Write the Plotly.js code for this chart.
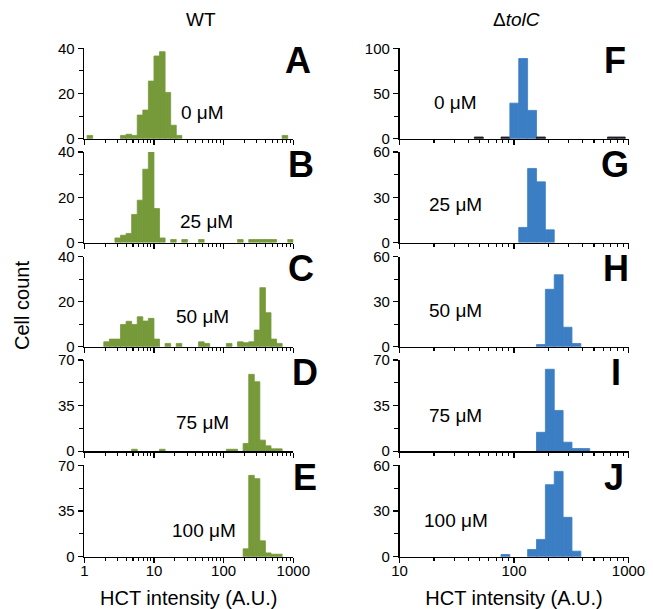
<!DOCTYPE html>
<html>
<head>
<meta charset="utf-8">
<script src="https://cdn.plot.ly/plotly-3.0.1.min.js"></script>
<style>html,body{margin:0;padding:0;background:#fff;}#chart{width:653px;height:609px;}</style>
</head>
<body>
<div id="chart"></div>
<script>
// ---------------- DATA ----------------
// Bin left edges (HCT intensity, A.U.) and cell counts per panel
const wtBinRatio = 1.202;   // log-width of WT histogram bins
const tolBinRatio = 1.195;  // log-width of ΔtolC histogram bins

const panelA_x = [1.096, 3.311, 3.981, 4.786, 5.754, 6.918, 8.318, 10.0, 12.02, 14.45, 17.38, 20.89, 691.8];
const panelA_y = [1.5, 1.5, 2, 1.5, 10.5, 12.7, 25.5, 36.6, 38.5, 20.5, 6, 1.5, 1.5];

const panelB_x = [2.754, 3.311, 3.981, 4.786, 5.754, 6.918, 8.318, 10.0, 12.02, 17.38, 25.12, 43.65, 158.5, 229.1, 275.4, 331.1, 398.1, 478.6, 831.8];
const panelB_y = [2, 3.2, 4, 12.4, 18.7, 32.4, 40, 15, 2, 1.3, 1.3, 1.3, 1.3, 1.3, 1.3, 1.3, 1.3, 1.3, 1.3];

const panelC_x = [1.905, 2.291, 2.754, 3.311, 3.981, 4.786, 5.754, 6.918, 8.318, 10.0, 14.45, 20.89, 43.65, 52.48, 109.6, 158.5, 190.5, 229.1, 275.4, 331.1, 398.1, 478.6, 575.4];
const panelC_y = [2.2, 3.4, 3.4, 9.9, 11.3, 9.9, 13.3, 11.4, 12.6, 3.4, 1.5, 1.5, 2.2, 1.5, 1.5, 2.2, 1.8, 2.2, 7.4, 26.2, 15.1, 3.4, 1.5];

const panelD_x = [4.786, 12.02, 109.6, 131.8, 190.5, 229.1, 275.4, 331.1, 398.1, 478.6, 575.4];
const panelD_y = [1.5, 1.5, 1.5, 1.5, 5.9, 59, 53.3, 8.5, 4.1, 1.8, 1.8];

const panelE_x = [190.5, 229.1, 275.4, 331.1, 398.1, 478.6, 575.4];
const panelE_y = [6.1, 62.3, 59.8, 12.2, 3, 2, 2];

const panelF_x = [45.1, 77.0, 92.0, 110.0, 131.5, 157.2, 655.0, 783.0];
const panelF_y = [2, 2, 39.4, 88.7, 31.4, 2, 2, 2];

const panelG_x = [110.0, 131.5, 157.2, 188.0];
const panelG_y = [10, 49.1, 40.2, 8.4];

const panelH_x = [157.2, 188.0, 224.6, 268.5, 321.0];
const panelH_y = [1.5, 38.2, 47.9, 13, 2.2];

const panelI_x = [157.2, 188.0, 224.6, 268.5, 321.0, 383.7];
const panelI_y = [14.5, 62.9, 31.3, 6.9, 2, 2];

const panelJ_x = [77.0, 131.5, 157.2, 188.0, 224.6, 268.5, 321.0];
const panelJ_y = [1.5, 4.8, 11.4, 47.3, 56, 25.9, 3.7];

const yMaxWT = [40, 40, 40, 70, 70];
const yMaxTol = [100, 60, 60, 70, 60];
const concLabels = ["0 \u03bcM", "25 \u03bcM", "50 \u03bcM", "75 \u03bcM", "100 \u03bcM"];
const letterWT = ["A", "B", "C", "D", "E"];
const letterTol = ["F", "G", "H", "I", "J"];
const xTickWT = [1, 10, 100, 1000];
const xTickTol = [10, 100, 1000];

// ---------------- LAYOUT HELPERS ----------------
const W = 653, H = 609;
const px = x => x / W;
const py = y => 1 - y / H;
const FONT = "Liberation Sans, Arial, Helvetica, sans-serif";
const green = "#76993a", blue = "#3b7ec4", dark = "#1b1b2a";

const rows = [[48.3, 138.8], [152, 242.5], [256.5, 346.8], [360, 451.2], [465.3, 556.8]];
const colL = [84.3, 293.3], colR = [399.5, 628.5];

function minorVals(lo, hi) {
  const v = [];
  for (let d = lo; d < hi; d *= 10) for (let k = 2; k <= 9; k++) v.push(d * k);
  return v;
}

const wtData = [[panelA_x, panelA_y], [panelB_x, panelB_y], [panelC_x, panelC_y], [panelD_x, panelD_y], [panelE_x, panelE_y]];
const tolData = [[panelF_x, panelF_y], [panelG_x, panelG_y], [panelH_x, panelH_y], [panelI_x, panelI_y], [panelJ_x, panelJ_y]];

const traces = [];
const layout = {
  width: W, height: H,
  margin: {l: 0, r: 0, t: 0, b: 0},
  paper_bgcolor: "#fff", plot_bgcolor: "rgba(0,0,0,0)",
  showlegend: false,
  font: {family: FONT, size: 15, color: "#000"},
  annotations: []
};

function addPanel(idx, col, r, data, ratio, color, ymax, xticks, bottom, letter, letterX, concX, concY, darkSmall) {
  const xs = data[0], ys = data[1];
  const sfx = idx === 1 ? "" : String(idx);
  const xa = "x" + sfx, ya = "y" + sfx;
  const colors = ys.map(v => (darkSmall && v <= 2.5) ? dark : color);
  traces.push({
    type: "bar", x: xs, y: ys,
    width: xs.map(e => e * (ratio - 1)), offset: 0,
    marker: {color: colors, line: {width: 0.8, color: colors}},
    xaxis: xa, yaxis: ya, hoverinfo: "x+y"
  });
  const domX = col === 0 ? colL : colR;
  const lo = xticks[0], hi = xticks[xticks.length - 1];
  layout["xaxis" + sfx] = {
    type: "log", range: [Math.log10(lo), Math.log10(hi)],
    domain: [px(domX[0]), px(domX[1])],
    anchor: ya, showgrid: false, zeroline: false,
    showline: true, linecolor: "#000", linewidth: 1.6,
    ticks: "outside", ticklen: 5, tickwidth: 1.3, tickcolor: "#000",
    tickmode: "array", tickvals: xticks, ticktext: xticks.map(String),
    showticklabels: bottom, ticklabelstandoff: -5,
    tickfont: {family: FONT, size: 15, color: "#000"},
    minor: {ticks: "outside", ticklen: 3, tickwidth: 1.1, tickcolor: "#000", tickmode: "array", tickvals: minorVals(lo, hi), showgrid: false},
    fixedrange: true
  };
  if (bottom) {
    layout["xaxis" + sfx].title = {text: "HCT intensity (A.U.)", font: {family: FONT, size: 20, color: "#000"}, standoff: 12};
  }
  layout["yaxis" + sfx] = {
    range: [0, ymax],
    domain: [py(rows[r][1]), py(rows[r][0])],
    anchor: xa, showgrid: false, zeroline: false,
    showline: true, linecolor: "#000", linewidth: 1.6,
    ticks: "outside", ticklen: 5, tickwidth: 1.3, tickcolor: "#000",
    tickmode: "linear", tick0: 0, dtick: ymax / 2,
    tickfont: {family: FONT, size: 15, color: "#000"},
    minor: {ticks: "outside", ticklen: 3.5, tickwidth: 1.1, tickcolor: "#000", tickmode: "linear", tick0: 0, dtick: ymax / 4, showgrid: false},
    fixedrange: true
  };
  layout.annotations.push({
    xref: "paper", yref: "paper", x: px(letterX), y: py(rows[r][0] + 12), xanchor: "center", yanchor: "middle",
    text: "<b>" + letter + "</b>", showarrow: false, font: {family: FONT, size: 36, color: "#000"}
  });
  layout.annotations.push({
    xref: "paper", yref: "paper", x: px(concX), y: py(concY), xanchor: "left", yanchor: "middle",
    text: concLabels[r], showarrow: false, font: {family: FONT, size: 19, color: "#000"}
  });
}

const letterXL = [298, 301, 301, 305, 305];
const letterXR = [615, 615, 616, 616, 614];
const concXL = [179, 177.5, 174, 174, 169.5];
const concYL = [112.7, 221, 316.7, 422.7, 530];
const concXR = [432, 427, 427, 427, 422];
const concYR = [102.3, 205, 310, 415.7, 520];

for (let r = 0; r < 5; r++) {
  addPanel(r + 1, 0, r, wtData[r], wtBinRatio, green, yMaxWT[r], xTickWT, r === 4, letterWT[r], letterXL[r], concXL[r], concYL[r], false);
}
for (let r = 0; r < 5; r++) {
  addPanel(r + 6, 1, r, tolData[r], tolBinRatio, blue, yMaxTol[r], xTickTol, r === 4, letterTol[r], letterXR[r], concXR[r], concYR[r], r === 0);
}

// Column headers and shared y title
layout.annotations.push({xref: "paper", yref: "paper", x: px(201), y: py(20), xanchor: "center", yanchor: "middle", text: "WT", showarrow: false, font: {family: FONT, size: 19, color: "#000"}});
layout.annotations.push({xref: "paper", yref: "paper", x: px(516), y: py(20), xanchor: "center", yanchor: "middle", text: "\u0394<i>tolC</i>", showarrow: false, font: {family: FONT, size: 19, color: "#000"}});
layout.annotations.push({xref: "paper", yref: "paper", x: px(22), y: py(306), xanchor: "center", yanchor: "middle", textangle: -90, text: "Cell count", showarrow: false, font: {family: FONT, size: 20, color: "#000"}});

Plotly.newPlot("chart", traces, layout, {displayModeBar: false, staticPlot: true});
</script>
</body>
</html>
